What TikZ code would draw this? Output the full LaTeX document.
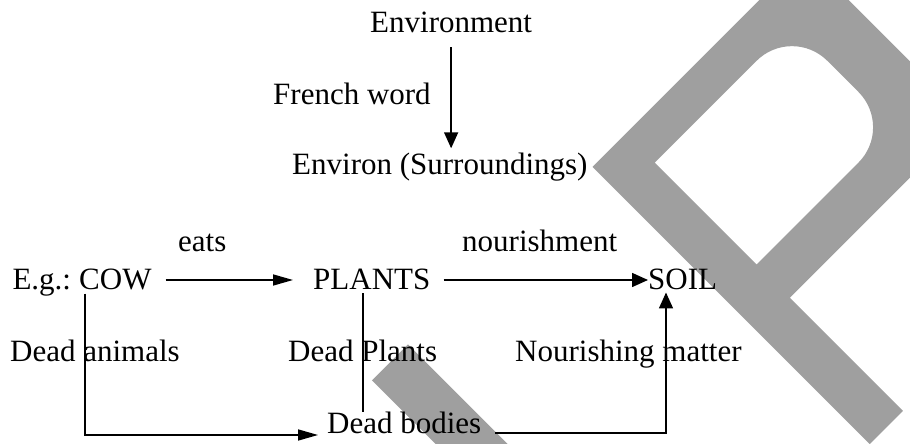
\documentclass[tikz,border=0pt]{standalone}
\usepackage{fontspec}
\setmainfont{Liberation Serif}
\usetikzlibrary{arrows.meta}
\definecolor{wmgray}{RGB}{159,159,159}
\begin{document}
\begin{tikzpicture}[x=1pt,y=1pt,
  txt/.style={inner sep=0pt, anchor=base west, font=\fontsize{31}{37}\selectfont},
  conn/.style={line width=1.6pt},
  arr/.style={conn, -{Triangle[length=16pt,width=14pt]}},
  longarr/.style={conn, -{Triangle[length=20pt,width=11pt]}}]
\useasboundingbox (0,0) rectangle (910,444);

% grey watermark letters, set diagonally
\begin{scope}
  \clip (0,0) rectangle (910,444);
  \begin{scope}[cm={0.7071,0.7071,0.7071,-0.7071,(0pt,444pt)}]
    \fill[wmgray] (-6,532) rectangle (45,1000);
    \fill[wmgray, even odd rule]
      (301,537) -- (540,537) arc[start angle=-90, end angle=0, radius=60]
      -- (600,709) arc[start angle=0, end angle=90, radius=60]
      -- (348,769) -- (348,929) -- (301,929) -- cycle
      (348,578) -- (492,578) arc[start angle=-90, end angle=0, radius=50]
      -- (542,672) arc[start angle=0, end angle=90, radius=50]
      -- (348,722) -- cycle;
  \end{scope}
\end{scope}

% etymology
\node[txt] (env) at (370,411) {Environment};
\node[txt] (french) at (273,339) {French word};
\node[txt] (environ) at (292,269) {Environ (Surroundings)};
\coordinate (envtip) at (env.south |- environ.north);
\draw[arr] ([yshift=-14pt]env.south) -- ([yshift=5pt]envtip);

% example chain
\node[txt] (cow) at (79,154) {COW};
\node[txt, anchor=base east] (eg) at ([xshift=-7.75pt]cow.base west) {E.g.:};
\node[txt] (plants) at (313,154) {PLANTS};
\node[txt] (soil) at (648,154) {SOIL};
\node[txt] (eats) at (178,192) {eats};
\node[txt] (nour) at (462,192) {nourishment};

\draw[longarr] ([xshift=14pt,yshift=10pt]cow.base east) -- ([xshift=-20pt,yshift=10pt]plants.base west);
\draw[arr] ([xshift=13pt,yshift=10pt]plants.base east) -- ([yshift=10pt]soil.base west);

% decomposition
\node[txt] (deadan) at (10,82) {Dead animals};
\node[txt] (deadpl) at (288,82) {Dead Plants};
\node[txt] (nourm) at (515,82) {Nourishing matter};
\node[txt] (bodies) at (327,10) {Dead bodies};

\draw[longarr] ([xshift=6pt,yshift=-3pt]cow.south west) |- ([xshift=-9pt,yshift=-1pt]bodies.base west);
\coordinate (pdrop) at ([xshift=50pt]plants.south west);
\draw[conn] ([yshift=-3pt]pdrop) -- (pdrop |- bodies.north);
\coordinate (sup) at ([xshift=18pt]soil.south west);
\draw[arr] ([xshift=14pt,yshift=1pt]bodies.base east) -| ([yshift=-2pt]sup);
\end{tikzpicture}
\end{document}
